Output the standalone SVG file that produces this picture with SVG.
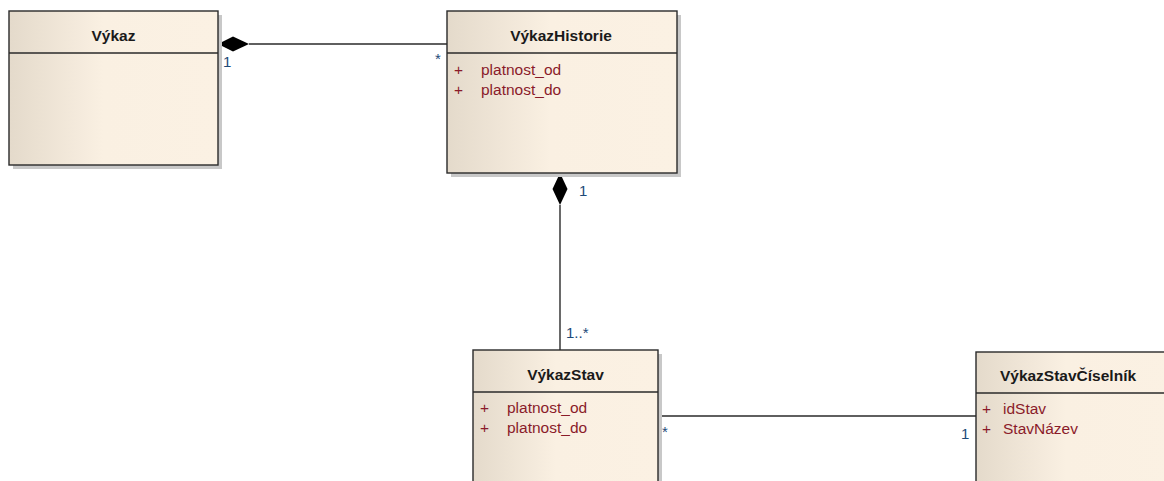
<svg xmlns="http://www.w3.org/2000/svg" width="1164" height="481" viewBox="0 0 1164 481">
<style>
.box{stroke:#2a2a2a;stroke-width:1.4;fill:url(#g)}
.sh{fill:#c8c8c8}
.sep{stroke:#2a2a2a;stroke-width:1.4}
.title{font-family:"Liberation Sans",Arial,sans-serif;font-weight:bold;font-size:15.5px;fill:#1a1a1a;text-anchor:middle}
.attr{font-family:"Liberation Sans",Arial,sans-serif;font-size:15.5px;fill:#8a1b2a}
.mult{font-family:"Liberation Sans",Arial,sans-serif;font-size:15px;fill:#1e4a78}
.line{stroke:#2a2a2a;stroke-width:1.4;fill:none}
</style>
<defs>
<linearGradient id="g" x1="0" y1="0" x2="1" y2="0">
<stop offset="0" stop-color="#e4dacb"/>
<stop offset="0.45" stop-color="#faf0e2"/>
<stop offset="1" stop-color="#fbf1e3"/>
</linearGradient>
</defs>
<rect width="1164" height="481" fill="#ffffff"/>
<g id="connectors">
<line class="line" x1="249" y1="44" x2="447" y2="44"/>
<polygon points="218,44 233,36.5 249,44 233,51.5" fill="#000"/>
<line class="line" x1="560" y1="205" x2="560" y2="350"/>
<polygon points="560,173 567.5,189 560,205 552.5,189" fill="#000"/>
<line class="line" x1="658" y1="416" x2="976" y2="416"/>
<text class="mult" x="223" y="67">1</text>
<text class="mult" x="435" y="64" font-size="12">*</text>
<text class="mult" x="579" y="196">1</text>
<text class="mult" x="566" y="338">1..*</text>
<text class="mult" x="662" y="437" font-size="12">*</text>
<text class="mult" x="961" y="439">1</text>
</g>
<g id="Vykaz">
<rect class="sh" x="13" y="15" width="209" height="154"/>
<rect class="box" x="9" y="11" width="209" height="154"/>
<line class="sep" x1="9" y1="53" x2="218" y2="53"/>
<text class="title" x="113.5" y="41">Výkaz</text>
</g>
<g id="VykazHistorie">
<rect class="sh" x="451" y="15" width="230" height="162"/>
<rect class="box" x="447" y="11" width="230" height="162"/>
<line class="sep" x1="447" y1="53" x2="677" y2="53"/>
<text class="title" x="561" y="41">VýkazHistorie</text>
<text class="attr" x="454" y="75">+</text>
<text class="attr" x="481" y="75">platnost_od</text>
<text class="attr" x="454" y="95">+</text>
<text class="attr" x="481" y="95">platnost_do</text>
</g>
<g id="VykazStav">
<rect class="sh" x="477" y="354" width="185" height="140"/>
<rect class="box" x="473" y="350" width="185" height="140"/>
<line class="sep" x1="473" y1="392" x2="658" y2="392"/>
<text class="title" x="565.5" y="380">VýkazStav</text>
<text class="attr" x="480" y="413">+</text>
<text class="attr" x="507" y="413">platnost_od</text>
<text class="attr" x="480" y="433">+</text>
<text class="attr" x="507" y="433">platnost_do</text>
</g>
<g id="VykazStavCiselnik">
<rect class="sh" x="980" y="356" width="200" height="140"/>
<rect class="box" x="976" y="352" width="200" height="140"/>
<line class="sep" x1="976" y1="393" x2="1176" y2="393"/>
<text class="title" x="1068" y="381">VýkazStavČíselník</text>
<text class="attr" x="982" y="414">+</text>
<text class="attr" x="1003" y="414">idStav</text>
<text class="attr" x="982" y="434">+</text>
<text class="attr" x="1003" y="434">StavNázev</text>
</g>
</svg>
